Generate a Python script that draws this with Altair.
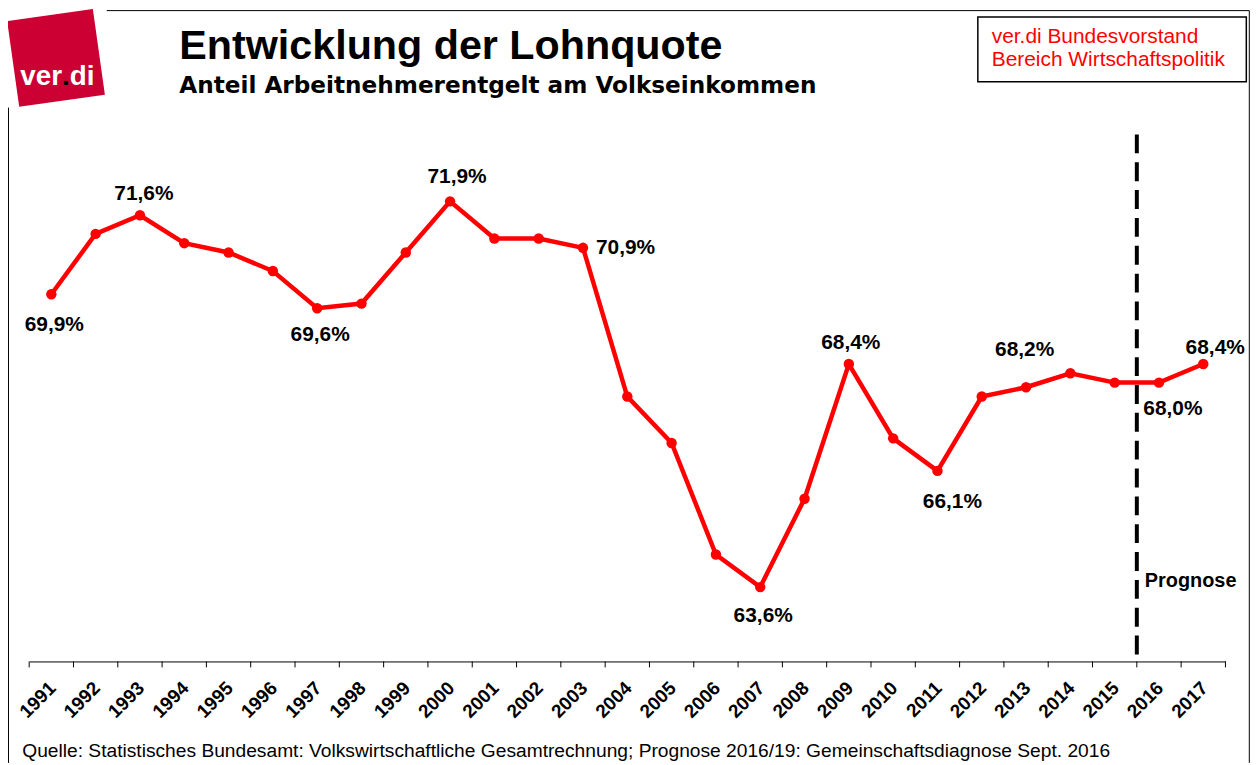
import altair as alt
import pandas as pd

# ---------------- data ----------------
years = list(range(1991, 2018))
lohnquote = [69.9, 71.2, 71.6, 71.0, 70.8, 70.4, 69.6, 69.7, 70.8, 71.9,
             71.1, 71.1, 70.9, 67.7, 66.7, 64.3, 63.6, 65.5, 68.4, 66.8,
             66.1, 67.7, 67.9, 68.2, 68.0, 68.0, 68.4]
label_years = [1991, 1993, 1997, 2000, 2003, 2007, 2009, 2011, 2014, 2016, 2017]
forecast_start = 2016
forecast_label = "Prognose"
title_text = "Entwicklung der Lohnquote"
subtitle_text = "Anteil Arbeitnehmerentgelt am Volkseinkommen"
box_lines = ["ver.di Bundesvorstand", "Bereich Wirtschaftspolitik"]
logo_parts = ["ver", ".", "di"]
source_text = ("Quelle: Statistisches Bundesamt: Volkswirtschaftliche Gesamtrechnung; "
               "Prognose 2016/19: Gemeinschaftsdiagnose Sept. 2016")

# ---------------- styles ----------------
FONT = "Liberation Sans"
RED = "#FF0000"
W, H = 1203, 530
PL, PT, PR, PB = 21.3, 125, 24.7, 102
# label offsets (dx, dy, align) per labelled year
label_style = {
    1991: (3, 31, "center"), 1993: (4, -21, "center"), 1997: (3, 27, "center"),
    2000: (7, -24, "center"), 2003: (13, 0, "left"), 2007: (3, 29, "center"),
    2009: (2, -21, "center"), 2011: (15, 31, "center"), 2014: (-46, -23, "center"),
    2016: (14, 27, "center"), 2017: (12, -16, "center"),
}

df = pd.DataFrame({"year": [str(y) for y in years], "value": lohnquote})
df["label"] = [f"{v:.1f}".replace(".", ",") + "%" for v in lohnquote]

xscale = alt.Scale(type="band", paddingInner=0, paddingOuter=0)
xaxis = alt.Axis(title=None, ticks=False, labelAngle=315, labelAlign="right",
                 labelBaseline="top", labelFont=FONT, labelFontSize=19,
                 labelFontWeight="bold", labelColor="black", labelPadding=17,
                 labelOffset=-5, domainColor="black", domainWidth=1,
                 labelOverlap=False)


def X(bp=0.5):
    return alt.X("year:O", scale=xscale, axis=xaxis, bandPosition=bp)


y = alt.Y("value:Q", scale=alt.Scale(domain=[62, 73.34], nice=False, zero=False), axis=None)

base = alt.Chart(df)
line = base.mark_line(color=RED, strokeWidth=4.5).encode(x=X(), y=y)
pts = base.mark_circle(color=RED, size=110, opacity=1).encode(x=X(), y=y)

ticks = base.mark_rule(color="black", strokeWidth=1).encode(
    x=X(0), y=alt.value(H), y2=alt.value(H + 6))
last_tick = alt.Chart(df.tail(1)).mark_rule(color="black", strokeWidth=1).encode(
    x=X(1), y=alt.value(H), y2=alt.value(H + 6))

label_layers = []
for yr in label_years:
    dx, dy, al = label_style[yr]
    label_layers.append(
        base.transform_filter(alt.datum.year == str(yr)).mark_text(
            font=FONT, fontSize=21, fontWeight="bold", color="black",
            dx=dx, dy=dy, align=al, baseline="middle"
        ).encode(x=X(), y=y, text="label:N")
    )

fc = pd.DataFrame({"year": [str(forecast_start)], "t": [forecast_label]})
dash = alt.Chart(fc).mark_rule(color="black", strokeWidth=4, strokeDash=[19, 9]).encode(
    x=X(0), y=alt.value(0), y2=alt.value(H))
prog = alt.Chart(fc).mark_text(font=FONT, fontSize=20, fontWeight="bold", color="black",
                               align="left", baseline="alphabetic", dx=8).encode(
    x=X(0), y=alt.value(455), text="t:N")


def txt(s, x, yv, font=FONT, **kw):
    return alt.Chart(pd.DataFrame({"t": [s]})).mark_text(
        font=font, align="left", baseline="alphabetic", **kw
    ).encode(x=alt.value(x), y=alt.value(yv), text="t:N")


def seg(x1, y1, x2, y2, **kw):
    return alt.Chart(pd.DataFrame({"a": [0]})).mark_rule(**kw).encode(
        x=alt.value(x1), x2=alt.value(x2), y=alt.value(y1), y2=alt.value(y2))


logo = alt.Chart(pd.DataFrame({"a": [0]})).mark_square(
    size=7569, angle=352, color="#CC0033", opacity=1, filled=True
).encode(x=alt.value(27), y=alt.value(-77))
logo_t1 = txt(logo_parts[0], -9, -50, fontSize=28, fontWeight="bold", color="white")
logo_dot = txt(logo_parts[1], 33, -50, fontSize=28, fontWeight="bold", color="black")
logo_t2 = txt(logo_parts[2], 40.8, -50, fontSize=28, fontWeight="bold", color="white")

title = txt(title_text, 151, -76, fontSize=41.5, fontWeight="bold", color="black")
subtitle = txt(subtitle_text, 151, -42, font="DejaVu Sans", fontSize=23.3,
               fontWeight="bold", color="black")

box = alt.Chart(pd.DataFrame({"a": [0]})).mark_rect(
    fill="white", stroke="black", strokeWidth=1.5
).encode(x=alt.value(954), x2=alt.value(1224), y=alt.value(-118), y2=alt.value(-53))
box_t1 = txt(box_lines[0], 968, -92, fontSize=21, color=RED)
box_t2 = txt(box_lines[1], 968, -69, fontSize=21, color=RED)

frame_l = seg(-20.8, -27, -20.8, 632, color="black", strokeWidth=1)
frame_t = seg(78, -124.5, 1227, -124.5, color="black", strokeWidth=1)
frame_r = seg(1227, -124.5, 1227, 632, color="black", strokeWidth=1)

footer = txt(source_text, -7, 626, fontSize=19.3, color="black")

chart = alt.layer(
    line, ticks, last_tick, dash, pts, *label_layers, prog,
    logo, logo_t1, logo_dot, logo_t2, title, subtitle, box, box_t1, box_t2,
    frame_l, frame_t, frame_r, footer
).properties(
    width=W, height=H,
    autosize=alt.AutoSizeParams(type="none"),
    padding={"left": PL, "top": PT, "right": PR, "bottom": PB},
    background="white",
).configure_view(stroke=None)

chart.save("out.html", embed_options={"renderer": "svg", "actions": False})
